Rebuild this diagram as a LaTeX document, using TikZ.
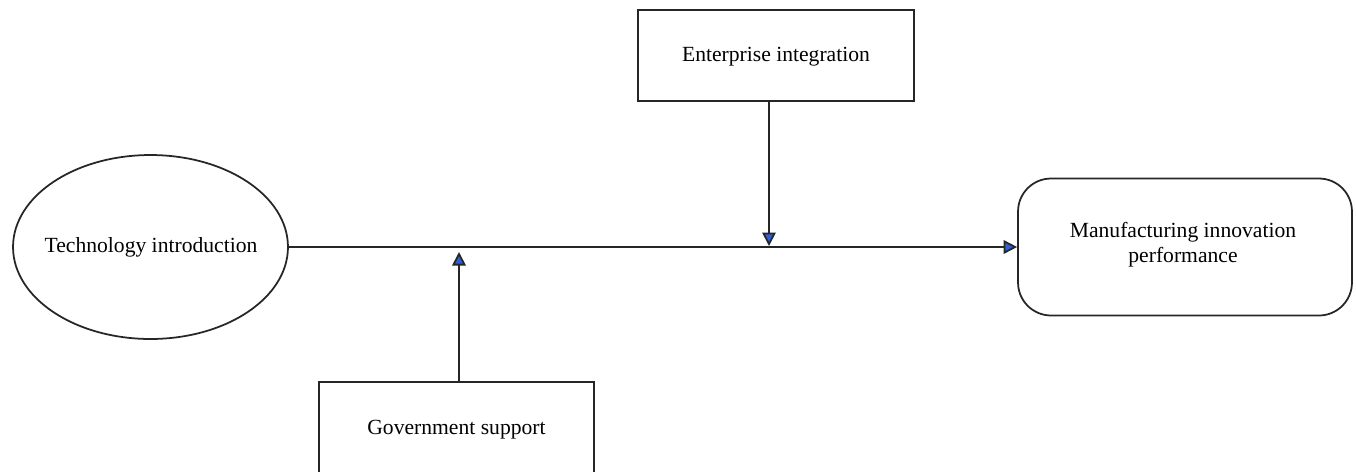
\documentclass[tikz,border=0pt]{standalone}
\usepackage{fontspec}
\setmainfont{Liberation Serif}
\usetikzlibrary{shapes.geometric,arrows.meta}
\definecolor{tipblue}{RGB}{45,95,215}
\begin{document}
\begin{tikzpicture}[x=0.02cm,y=-0.02cm,
  every node/.style={font=\fontsize{12.3}{14.2}\selectfont, text=black, inner sep=0pt, align=center},
  conn/.style={draw=black!85, line width=1pt},
  tip/.style={-{Triangle[length=0.27cm,width=0.27cm,fill=tipblue]}},
  rectbox/.style={draw=black!85, line width=1pt, rectangle, minimum width=5.52cm, minimum height=1.82cm}]
\useasboundingbox (0,0) rectangle (1356,471);
\clip (0,0) rectangle (1356,471);
\node[draw=black!85, line width=1pt, ellipse, minimum width=5.5cm, minimum height=3.68cm] (tech) at (150.5,247) {};
\node at (151,247) {Technology introduction};
\node[rectbox] (ent) at (776,55.5) {};
\node at (776,57) {Enterprise integration};
\node[rectbox, minimum width=5.5cm] (gov) at (456.5,427.5) {};
\node at (456.5,430) {Government support};
\node[draw=black!85, line width=1pt, rectangle, rounded corners=0.66cm, minimum width=6.68cm, minimum height=2.74cm] (mip) at (1185,247) {};
\node at (1183,245) {Manufacturing innovation\\performance};
\coordinate (m1) at (769,246);
\coordinate (m2) at (459,252);
\draw[conn, tip] (tech.east) -- (mip.west);
\draw[conn, tip] (ent.south -| m1) -- (m1);
\draw[conn, tip] (gov.north -| m2) -- (m2);
\end{tikzpicture}
\end{document}
